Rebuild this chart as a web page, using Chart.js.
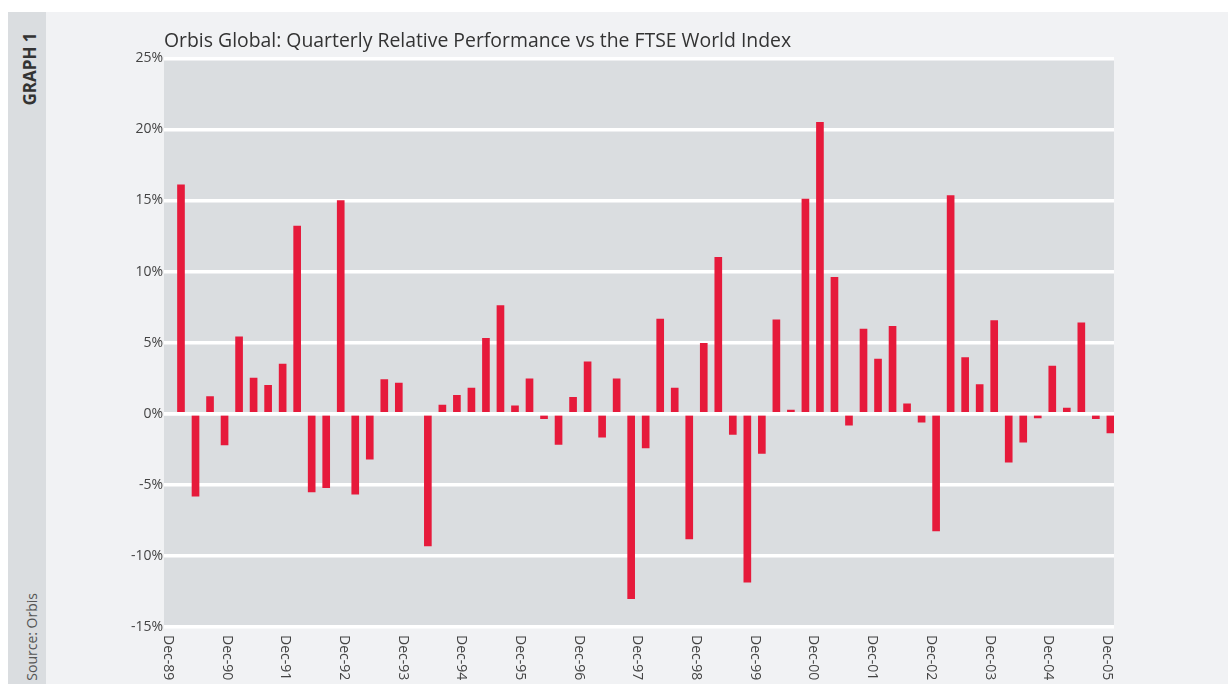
<!DOCTYPE html>
<html>
<head>
<meta charset="utf-8">
<title>Orbis Global: Quarterly Relative Performance</title>
<script src="https://cdn.jsdelivr.net/npm/chart.js@4/dist/chart.umd.min.js"></script>
<style>
  html, body { margin: 0; padding: 0; background: #fff; width: 1228px; height: 684px; overflow: hidden; }
  body { position: relative; font-family: "Open Sans", sans-serif; }
  #panel { position: absolute; left: 8px; top: 12px; right: 0; bottom: 0; background: #f1f2f4; }
  #strip { position: absolute; left: 8px; top: 12px; width: 38px; bottom: 0; background: #dadde0; }
  .side { position: absolute; width: 140px; height: 20px; line-height: 20px; white-space: nowrap;
          color: #333; transform: rotate(-90deg); }
  #graphNo { left: -40px; top: 59px; font-size: 17px; font-weight: 700; text-align: center; }
  #source { left: -38px; top: 653px; font-size: 14px; text-align: right; color: #555; }
  #wrap { position: absolute; left: 0; top: 0; width: 1228px; height: 684px; }
</style>
</head>
<body>
<div id="panel"></div>
<div id="strip"></div>
<div class="side" id="graphNo">GRAPH 1</div>
<div class="side" id="source">Source: Orbis</div>
<div id="wrap"><canvas id="chart"></canvas></div>

<script>
// Quarterly relative performance (%), Mar-90 .. Mar-06
const relPerf = [
  16.1, -5.8, 1.2, -2.2, 5.4, 2.5, 2.0, 3.5, 13.2, -5.5, -5.2, 15.0, -5.65, -3.2, 2.4, 2.15,
  0, -9.3, 0.6, 1.3, 1.8, 5.3, 7.6, 0.55, 2.45, -0.35, -2.15, 1.15, 3.65, -1.65, 2.45, -13.0,
  -2.4, 6.65, 1.8, -8.8, 4.95, 11.0, -1.45, -11.85, -2.8, 6.6, 0.25, 15.1, 20.5, 9.6, -0.8, 5.95,
  3.85, 6.15, 0.7, -0.6, -8.25, 15.35, 3.95, 2.05, 6.55, -3.4, -2.0, -0.3, 3.35, 0.4, 6.4, -0.35,
  -1.35
];

const tickLabels = [
  'Dec-89', 'Dec-90', 'Dec-91', 'Dec-92', 'Dec-93', 'Dec-94', 'Dec-95', 'Dec-96', 'Dec-97',
  'Dec-98', 'Dec-99', 'Dec-00', 'Dec-01', 'Dec-02', 'Dec-03', 'Dec-04', 'Dec-05'
];

const chartTitle = 'Orbis Global: Quarterly Relative Performance vs the FTSE World Index';

const plotBg = {
  id: 'plotBg',
  beforeDraw(chart) {
    const { ctx, chartArea: a } = chart;
    ctx.save();
    ctx.fillStyle = '#dadde0';
    ctx.fillRect(a.left, a.top, a.right - a.left, a.bottom - a.top);
    ctx.restore();
  }
};

// white zero line sits over the bars
const zeroLine = {
  id: 'zeroLine',
  afterDatasetsDraw(chart) {
    const { ctx, chartArea: a } = chart;
    const y = chart.scales.y.getPixelForValue(0);
    ctx.save();
    ctx.strokeStyle = '#fff';
    ctx.lineWidth = 3.5;
    ctx.beginPath();
    ctx.moveTo(a.left, y);
    ctx.lineTo(a.right, y);
    ctx.stroke();
    ctx.restore();
  }
};

// x labels read top to bottom, so draw them by hand on the label axis
const xLabels = {
  id: 'xLabels',
  afterDraw(chart) {
    const { ctx, chartArea: a } = chart;
    const s = chart.scales.xl;
    ctx.save();
    ctx.font = '14px "Open Sans", sans-serif';
    ctx.fillStyle = '#444';
    ctx.textAlign = 'left';
    ctx.textBaseline = 'middle';
    tickLabels.forEach((t, i) => {
      ctx.save();
      ctx.translate(s.getPixelForValue(i), a.bottom + 8);
      ctx.rotate(Math.PI / 2);
      ctx.fillText(t, 0, 0);
      ctx.restore();
    });
    ctx.restore();
  }
};

new Chart(document.getElementById('chart'), {
  type: 'bar',
  data: {
    datasets: [{
      label: 'Relative performance',
      data: relPerf.map((v, i) => ({ x: i, y: v })),
      backgroundColor: '#e61a3b',
      borderWidth: 0,
      barThickness: 7
    }]
  },
  options: {
    responsive: true,
    maintainAspectRatio: false,
    animation: false,
    layout: { padding: { left: 0, right: 114, top: 30, bottom: 57 } },
    plugins: {
      legend: { display: false },
      tooltip: { enabled: false },
      title: {
        display: true,
        text: chartTitle,
        align: 'start',
        fullSize: false,
        color: '#333',
        font: { family: '"Open Sans", sans-serif', size: 19.4, weight: 'normal' },
        padding: { top: 0, bottom: 5 }
      }
    },
    scales: {
      x: {
        type: 'linear',
        display: false,
        offset: false,
        min: -1.17,
        max: 64.25
      },
      xl: {
        type: 'linear',
        position: 'bottom',
        display: true,
        offset: false,
        min: -0.065,
        max: 16.12,
        grid: { display: false, drawTicks: false },
        border: { display: false },
        ticks: { display: false }
      },
      y: {
        min: -15,
        max: 25,
        border: { display: false },
        grid: { color: '#fff', lineWidth: 3.5, drawTicks: false },
        ticks: {
          stepSize: 5,
          padding: 1,
          color: '#444',
          font: { family: '"Open Sans", sans-serif', size: 14 },
          callback: (v) => v + '%'
        },
        afterFit: (s) => { s.width = 164; }
      }
    }
  },
  plugins: [plotBg, zeroLine, xLabels]
});
</script>
</body>
</html>
